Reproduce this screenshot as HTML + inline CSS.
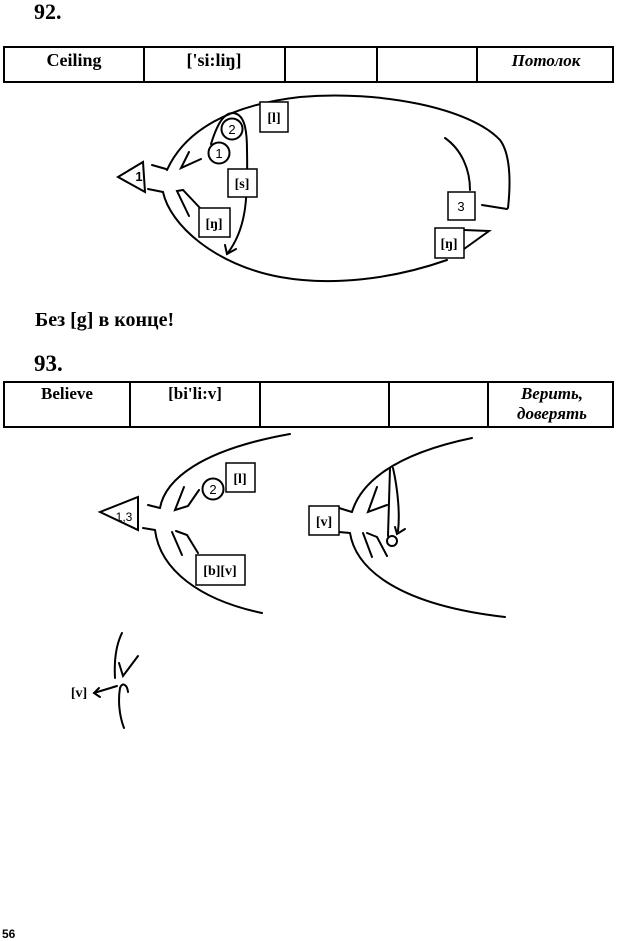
<!DOCTYPE html>
<html>
<head>
<meta charset="utf-8">
<style>
html,body{margin:0;padding:0;background:#fff;}
body{width:620px;height:941px;overflow:hidden;}
svg{display:block;}
.h{font-family:"Liberation Serif",serif;font-weight:bold;}
.bi{font-family:"Liberation Serif",serif;font-weight:bold;font-style:italic;}
.s{font-family:"Liberation Sans",sans-serif;}
</style>
</head>
<body>
<svg width="620" height="941" viewBox="0 0 620 941" xmlns="http://www.w3.org/2000/svg">
<rect x="0" y="0" width="620" height="941" fill="#fff"/>

<!-- 92. -->
<text x="34" y="19" class="h" font-size="22">92.</text>

<!-- Table 1 -->
<g fill="none" stroke="#000" stroke-width="2">
  <rect x="4" y="47" width="609" height="35"/>
  <line x1="144" y1="47" x2="144" y2="82"/>
  <line x1="285" y1="47" x2="285" y2="82"/>
  <line x1="377" y1="47" x2="377" y2="82"/>
  <line x1="477" y1="47" x2="477" y2="82"/>
</g>
<text x="74" y="66" class="h" font-size="18" text-anchor="middle">Ceiling</text>
<text x="214" y="66" class="h" font-size="18" text-anchor="middle">['si:liŋ]</text>
<text x="546" y="66" class="bi" font-size="17" text-anchor="middle">Потолок</text>

<!-- Diagram 1 -->
<g fill="none" stroke="#000" stroke-width="2" stroke-linecap="round">
  <path d="M167,170 C185,130 230,105 300,97 C380,90 470,108 500,140 C512,156 510,190 508,208"/>
  <line x1="482" y1="205" x2="507" y2="209"/>
  <path d="M445,138 C462,150 470,170 470,190"/>
  <path d="M163,192 C170,225 215,265 280,277 C330,286 390,280 447,260"/>
  <path d="M464,230 L489,231 L464,249"/>
  <line x1="152" y1="165" x2="166" y2="169"/>
  <line x1="148" y1="189" x2="163" y2="192"/>
  <polyline points="189,152 181,168 201,159"/>
  <polyline points="189,216 177,191 183,190 200,208"/>
  <circle cx="232" cy="129" r="10.5"/>
  <circle cx="219" cy="153" r="10.5"/>
  <path d="M211,144 C216,128 222,114 232,113 C244,113 247,128 247,150 C248,200 246,230 227,254"/>
  <polyline points="225,245 227,254 236,249"/>
  <polygon points="118,177 143,162 145,192"/>
</g>
<text x="139" y="181" class="s" font-size="13" font-weight="bold" text-anchor="middle">1</text>
<text x="232" y="134" class="s" font-size="13" text-anchor="middle">2</text>
<text x="219" y="158" class="s" font-size="13" text-anchor="middle">1</text>

<g fill="#fff" stroke="#000" stroke-width="1.5">
  <rect x="260" y="102" width="28" height="30"/>
  <rect x="228" y="169" width="29" height="28"/>
  <rect x="199" y="208" width="31" height="29"/>
  <rect x="448" y="192" width="27" height="28"/>
  <rect x="435" y="228" width="29" height="30"/>
</g>
<text x="274" y="122" class="h" font-size="14" text-anchor="middle">[l]</text>
<text x="242" y="188" class="h" font-size="14" text-anchor="middle">[s]</text>
<text x="214" y="228" class="h" font-size="14" text-anchor="middle">[ŋ]</text>
<text x="461" y="211" class="s" font-size="13" text-anchor="middle">3</text>
<text x="449" y="248" class="h" font-size="14" text-anchor="middle">[ŋ]</text>

<!-- Без [g] в конце! -->
<text x="35" y="326" class="h" font-size="20">Без [g] в конце!</text>

<!-- 93. -->
<text x="34" y="371" class="h" font-size="23">93.</text>

<!-- Table 2 -->
<g fill="none" stroke="#000" stroke-width="2">
  <rect x="4" y="382" width="609" height="45"/>
  <line x1="130" y1="382" x2="130" y2="427"/>
  <line x1="260" y1="382" x2="260" y2="427"/>
  <line x1="389" y1="382" x2="389" y2="427"/>
  <line x1="488" y1="382" x2="488" y2="427"/>
</g>
<text x="67" y="399" class="h" font-size="17" text-anchor="middle">Believe</text>
<text x="195" y="399" class="h" font-size="17" text-anchor="middle">[bi'li:v]</text>
<text x="552" y="399" class="bi" font-size="17" text-anchor="middle">Верить,</text>
<text x="552" y="419" class="bi" font-size="17" text-anchor="middle">доверять</text>

<!-- Diagram 2 left -->
<g fill="none" stroke="#000" stroke-width="2" stroke-linecap="round">
  <polygon points="100,512 138,497 138,530"/>
  <line x1="148" y1="505" x2="160" y2="508"/>
  <path d="M160,508 C165,480 200,450 290,434"/>
  <line x1="143" y1="528" x2="155" y2="530"/>
  <path d="M155,530 C160,570 200,600 262,613"/>
  <polyline points="184,487 175,510 188,506 199,490"/>
  <circle cx="213" cy="489" r="10.5"/>
  <line x1="172" y1="532" x2="182" y2="555"/>
  <polyline points="176,531 187,535 198,553"/>
</g>
<text x="124" y="521" class="s" font-size="12" text-anchor="middle">1,3</text>
<text x="213" y="494" class="s" font-size="13" text-anchor="middle">2</text>
<g fill="#fff" stroke="#000" stroke-width="1.5">
  <rect x="226" y="463" width="29" height="29"/>
  <rect x="196" y="555" width="49" height="30"/>
</g>
<text x="240" y="483" class="h" font-size="14" text-anchor="middle">[l]</text>
<text x="220" y="575" class="h" font-size="14" text-anchor="middle">[b][v]</text>

<!-- Diagram 2 right -->
<g fill="none" stroke="#000" stroke-width="2" stroke-linecap="round">
  <line x1="339" y1="508" x2="352" y2="512"/>
  <path d="M352,512 C360,485 390,455 472,438"/>
  <line x1="339" y1="532" x2="350" y2="533"/>
  <path d="M350,533 C356,570 400,605 505,617"/>
  <polyline points="377,487 368,512 387,505"/>
  <line x1="363" y1="533" x2="372" y2="557"/>
  <polyline points="367,533 377,537 387,556"/>
  <line x1="390" y1="468" x2="388" y2="536"/>
  <path d="M393,468 C398,490 400,515 398,531"/>
  <circle cx="392" cy="541" r="5"/>
  <polyline points="395,527 397,534 405,529"/>
</g>
<rect x="309" y="506" width="30" height="29" fill="#fff" stroke="#000" stroke-width="1.5"/>
<text x="324" y="526" class="h" font-size="14" text-anchor="middle">[v]</text>

<!-- Small drawing -->
<g fill="none" stroke="#000" stroke-width="2" stroke-linecap="round">
  <path d="M122,633 C116,645 114,660 115,678"/>
  <polyline points="119,663 123,676 138,656"/>
  <path d="M128,692 C127,684 122,682 120,688 C118,700 119,715 124,728"/>
  <line x1="117" y1="686" x2="94" y2="693"/>
  <polyline points="99,688 94,693 100,697"/>
</g>
<text x="79" y="697" class="h" font-size="14" text-anchor="middle">[v]</text>

<!-- Page number -->
<text x="2" y="938" class="s" font-size="12" font-weight="bold">56</text>
</svg>
</body>
</html>
